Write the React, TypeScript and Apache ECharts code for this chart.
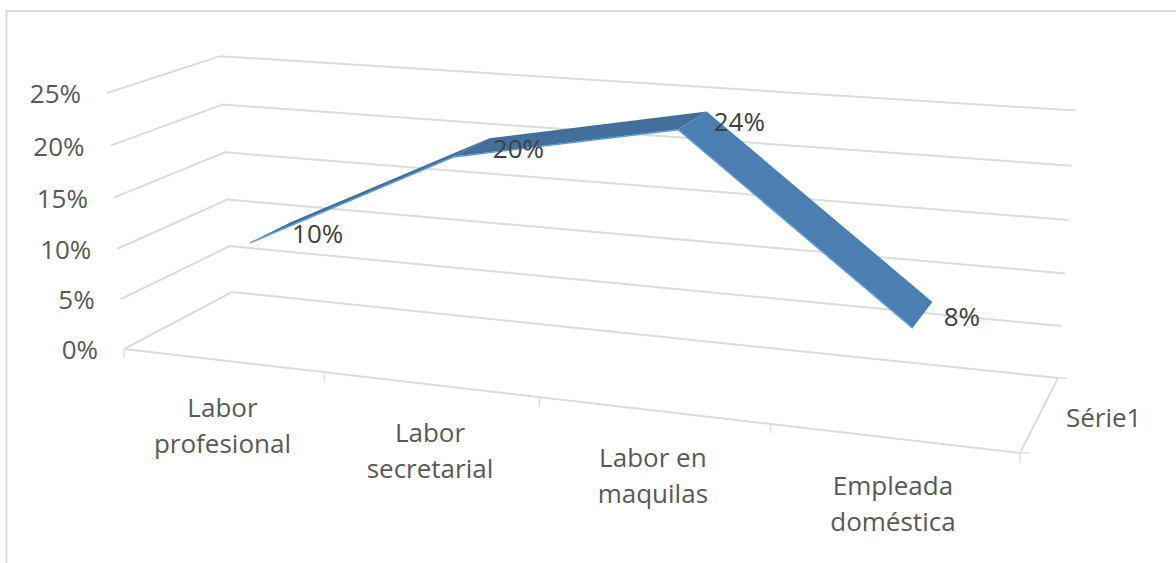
import React, { useEffect, useRef } from "react";
import * as echarts from "echarts";

const categories = ["Labor\nprofesional", "Labor\nsecretarial", "Labor en\nmaquilas", "Empleada\ndoméstica"];
const shares = [10, 20, 24, 8];
const valueTicks = [0, 5, 10, 15, 20, 25];
const seriesName = "Série1";

const FONT = "26px 'Open Sans'";
const GRID = "#dcdcdc";
const AXIS_TEXT = "#595959";
const LABEL_TEXT = "#404040";
const FACE_DARK = "#426f9b";
const FACE_MAIN = "#4b7fb2";
const FACE_EDGE = "#5b9bd5";

// Perspective camera of the 3D plot box: u along categories, v up the value axis, w into the depth.
const cam = { a: 757.6, b: -20.7, c: 129.1, d: 124, e: 42.5, f: -259.3, g: -30.4, h: 349, i: -0.1357, j: -0.035, k: 0.091 };
const project = (u: number, v: number, w: number): number[] => {
  const q = 1 + cam.i * u + cam.j * v + cam.k * w;
  return [(cam.a * u + cam.b * v + cam.c * w + cam.d) / q, (cam.e * u + cam.f * v + cam.g * w + cam.h) / q];
};

// Ribbon occupies the middle of the depth, as a 150% gap depth would give.
const RIBBON_FRONT = 0.3;
const RIBBON_BACK = 0.7;

// Reads axis-scale positions back as unit coordinates of the hidden grid.
const unit = (api: any, params: any, cat: number, value: number) => {
  const [px, py] = api.coord([cat, value]);
  const r = params.coordSys;
  return { u: (px - r.x) / r.width, v: 1 - (py - r.y) / r.height };
};

const lineStyle = { stroke: GRID, lineWidth: 2, fill: "none" };

const renderWall = (params: any, api: any) => {
  const value = api.value(1);
  const { v } = unit(api, params, 0, value);
  const front = project(0, v, 0);
  const children: any[] = [
    {
      type: "polyline",
      shape: { points: [front, project(0, v, 1), project(1, v, 1)] },
      style: lineStyle,
    },
    {
      type: "text",
      style: {
        x: front[0] - 26,
        y: front[1],
        text: `${valueTicks[params.dataIndex]}%`,
        font: FONT,
        fill: AXIS_TEXT,
        align: "right",
        verticalAlign: "middle",
      },
    },
  ];
  return { type: "group", children };
};

const renderCategory = (params: any, api: any) => {
  const i = params.dataIndex;
  const { u } = unit(api, params, i, 0);
  const step = 1 / categories.length;
  const left = u - step / 2;
  const start = project(left, 0, 0);
  const anchor = project(u, 0, 0);
  const children: any[] = [
    {
      type: "line",
      shape: { x1: start[0], y1: start[1], x2: start[0], y2: start[1] + 9 },
      style: { stroke: GRID, lineWidth: 1.4 },
    },
    {
      type: "text",
      style: {
        x: anchor[0],
        y: anchor[1] + 65,
        text: categories[i],
        font: FONT,
        lineHeight: 36,
        fill: AXIS_TEXT,
        align: "center",
        verticalAlign: "middle",
      },
    },
  ];
  if (i === categories.length - 1) {
    // Right end of the floor with its depth edge and the depth axis name.
    const end = project(1, 0, 0);
    const backEnd = project(1, 0, 1);
    const named = project(1, 0, 0.5);
    children.push(
      { type: "polyline", shape: { points: [project(0, 0, 0), end, backEnd] }, style: lineStyle },
      { type: "line", shape: { x1: end[0], y1: end[1], x2: end[0], y2: end[1] + 10 }, style: { stroke: GRID, lineWidth: 1.4 } },
      { type: "line", shape: { x1: end[0], y1: end[1], x2: end[0] + 9, y2: end[1] }, style: { stroke: GRID, lineWidth: 1.4 } },
      { type: "line", shape: { x1: backEnd[0], y1: backEnd[1], x2: backEnd[0] + 9, y2: backEnd[1] }, style: { stroke: GRID, lineWidth: 1.4 } },
      {
        type: "text",
        style: {
          x: named[0] + 26,
          y: named[1] + 3,
          text: seriesName,
          font: FONT,
          fill: AXIS_TEXT,
          align: "left",
          verticalAlign: "middle",
        },
      },
    );
  }
  return { type: "group", children };
};

const renderRibbon = (params: any, api: any) => {
  const i = params.dataIndex;
  const here = unit(api, params, i, shares[i]);
  const f = project(here.u, here.v, RIBBON_FRONT);
  const b = project(here.u, here.v, RIBBON_BACK);
  const children: any[] = [];
  if (i < shares.length - 1) {
    const next = unit(api, params, i + 1, shares[i + 1]);
    const nf = project(next.u, next.v, RIBBON_FRONT);
    const nb = project(next.u, next.v, RIBBON_BACK);
    const rising = shares[i + 1] >= shares[i];
    children.push(
      {
        type: "polygon",
        shape: { points: [f, nf, nb, b] },
        style: { fill: rising ? FACE_DARK : FACE_MAIN },
      },
      {
        type: "line",
        shape: { x1: f[0], y1: f[1] + 0.5, x2: nf[0], y2: nf[1] + 0.5 },
        style: { stroke: FACE_EDGE, lineWidth: 1.4 },
      },
    );
  }
  return { type: "group", children };
};

const renderValueLabel = (params: any, api: any) => {
  const i = params.dataIndex;
  const here = unit(api, params, i, shares[i]);
  const p = project(here.u, here.v, 0.5);
  return {
    type: "text",
    style: {
      x: p[0] + 21,
      y: p[1] + 1,
      text: `${shares[i]}%`,
      font: FONT,
      fill: LABEL_TEXT,
      align: "left",
      verticalAlign: "middle",
    },
  };
};

export default function App() {
  const ref = useRef<HTMLDivElement>(null);
  useEffect(() => {
    const chart = echarts.init(ref.current!, undefined, { renderer: "svg" });
    chart.setOption({
      animation: false,
      backgroundColor: "#ffffff",
      grid: { left: 0, right: 0, top: 0, bottom: 0 },
      xAxis: { type: "category", data: categories, show: false },
      yAxis: { type: "value", min: 0, max: 25, interval: 5, show: false },
      graphic: [
        {
          type: "polyline",
          shape: { points: [[6.5, 563], [6.5, 11], [1176, 11]] },
          style: { stroke: GRID, lineWidth: 2, fill: "none" },
        },
      ],
      series: [
        { type: "custom", renderItem: renderWall, data: valueTicks.map((t) => [0, t]), silent: true },
        { type: "custom", renderItem: renderCategory, data: categories.map((_, i) => [i, 0]), silent: true },
        { type: "custom", renderItem: renderRibbon, data: shares.map((s, i) => [i, s]), silent: true },
        { type: "custom", renderItem: renderValueLabel, data: shares.map((s, i) => [i, s]), silent: true },
      ],
    });
    return () => chart.dispose();
  }, []);
  return <div ref={ref} style={{ position: "fixed", left: 0, top: 0, width: 1176, height: 563 }} />;
}
